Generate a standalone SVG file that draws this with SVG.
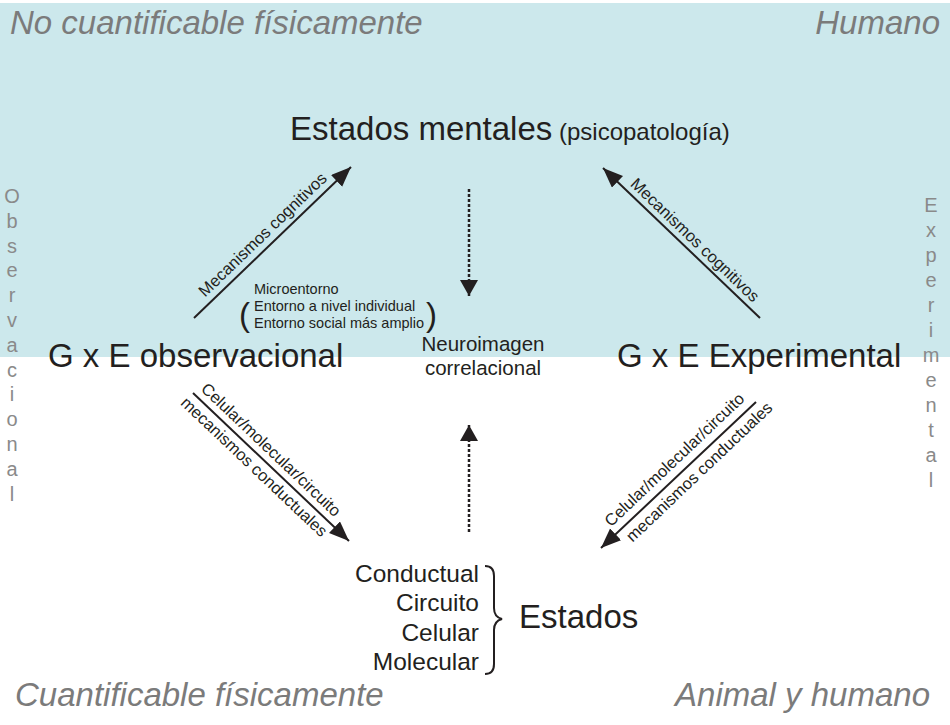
<svg xmlns="http://www.w3.org/2000/svg" width="950" height="725" viewBox="0 0 950 725">
<style>
text{font-family:"Liberation Sans",Arial,sans-serif;fill:#231f20}
.corner{font-size:33px;font-style:italic;fill:#7b7b7b}
.big{font-size:33px}
.lab{font-size:16.5px}
.small{font-size:14.5px}
.mid{font-size:20.5px}
.lvl{font-size:24.5px;text-anchor:end}
.vert{font-size:20px;fill:#8a8a8a;text-anchor:middle}
.line{stroke:#231f20;stroke-width:2;fill:none}
.dot{stroke:#231f20;stroke-width:2.5;fill:none;stroke-dasharray:3 2}
</style>
<defs>
<marker id="ah" markerUnits="userSpaceOnUse" markerWidth="22" markerHeight="18" refX="20" refY="8" orient="auto">
<path d="M0,0 L20,8 L0,16 z" fill="#231f20"/>
</marker>
<marker id="ahd" markerUnits="userSpaceOnUse" markerWidth="20" markerHeight="20" refX="16" refY="9" orient="auto">
<path d="M0,0 L16,9 L0,18 z" fill="#231f20"/>
</marker>
</defs>
<rect x="0" y="3" width="950" height="354" fill="#cce8ec"/>

<g id="corners">
<text class="corner" x="10" y="34">No cuantificable físicamente</text>
<text class="corner" x="940" y="34" text-anchor="end">Humano</text>
<text class="corner" x="15" y="706">Cuantificable físicamente</text>
<text class="corner" x="930" y="706" text-anchor="end">Animal y humano</text>
</g>

<g id="observacional-axis">
<text class="vert" x="12" y="203">O</text>
<text class="vert" x="12" y="227.8">b</text>
<text class="vert" x="12" y="252.6">s</text>
<text class="vert" x="12" y="277.4">e</text>
<text class="vert" x="12" y="302.2">r</text>
<text class="vert" x="12" y="327">v</text>
<text class="vert" x="12" y="351.8">a</text>
<text class="vert" x="12" y="376.6">c</text>
<text class="vert" x="12" y="401.4">i</text>
<text class="vert" x="12" y="426.2">o</text>
<text class="vert" x="12" y="451">n</text>
<text class="vert" x="12" y="475.8">a</text>
<text class="vert" x="12" y="500.6">l</text>
</g>

<g id="experimental-axis">
<text class="vert" x="931" y="212">E</text>
<text class="vert" x="931" y="237">x</text>
<text class="vert" x="931" y="262">p</text>
<text class="vert" x="931" y="287">e</text>
<text class="vert" x="931" y="312">r</text>
<text class="vert" x="931" y="337">i</text>
<text class="vert" x="931" y="362">m</text>
<text class="vert" x="931" y="387">e</text>
<text class="vert" x="931" y="412">n</text>
<text class="vert" x="931" y="437">t</text>
<text class="vert" x="931" y="462">a</text>
<text class="vert" x="931" y="487">l</text>
</g>

<g id="estados-mentales">
<text x="290" y="140"><tspan class="big">Estados mentales</tspan><tspan font-size="24px"> (psicopatología)</tspan></text>
</g>

<g id="gxe-observacional">
<text class="big" x="48" y="367">G x E observacional</text>
</g>

<g id="gxe-experimental">
<text class="big" x="617" y="367">G x E Experimental</text>
</g>

<g id="entorno">
<text x="239" y="326" font-size="33px">(</text>
<text x="426" y="326" font-size="33px">)</text>
<text class="small" x="254" y="294">Microentorno</text>
<text class="small" x="254" y="311">Entorno a nivel individual</text>
<text class="small" x="254" y="328">Entorno social más amplio</text>
</g>

<g id="neuroimagen">
<text class="mid" x="483" y="351" text-anchor="middle">Neuroimagen</text>
<text class="mid" x="483" y="375" text-anchor="middle">correlacional</text>
</g>

<g id="estados">
<text class="lvl" x="479" y="582">Conductual</text>
<text class="lvl" x="479" y="611">Circuito</text>
<text class="lvl" x="479" y="641">Celular</text>
<text class="lvl" x="479" y="670">Molecular</text>
<path class="line" d="M485,566 Q494,566 494,576 L494,608 Q494,617 502,619 Q494,621 494,630 L494,664 Q494,674 485,674"/>
<text class="big" x="519" y="628">Estados</text>
</g>

<g id="connectors">
<line class="line" x1="194" y1="318" x2="351" y2="167" marker-end="url(#ah)"/>
<line class="line" x1="760" y1="318" x2="603" y2="168" marker-end="url(#ah)"/>
<line class="line" x1="193" y1="393" x2="349" y2="541" marker-end="url(#ah)"/>
<line class="line" x1="756" y1="402" x2="601" y2="548" marker-end="url(#ah)"/>
<line class="dot" x1="469" y1="189" x2="469" y2="296" marker-end="url(#ahd)"/>
<line class="dot" x1="469" y1="532" x2="469" y2="425" marker-end="url(#ahd)"/>
<g transform="translate(194,318) rotate(-43.9)"><text class="lab" x="22" y="-7">Mecanismos cognitivos</text></g>
<g transform="translate(603,168) rotate(43.7)"><text class="lab" x="31" y="-6">Mecanismos cognitivos</text></g>
<g transform="translate(193,393) rotate(43.5)"><text class="lab" x="3" y="-7">Celular/molecular/circuito</text><text class="lab" x="-2" y="17">mecanismos conductuales</text></g>
<g transform="translate(602,547) rotate(-43.5)"><text class="lab" x="20" y="-8">Celular/molecular/circuito</text><text class="lab" x="25" y="18">mecanismos conductuales</text></g>
</g>
</svg>
